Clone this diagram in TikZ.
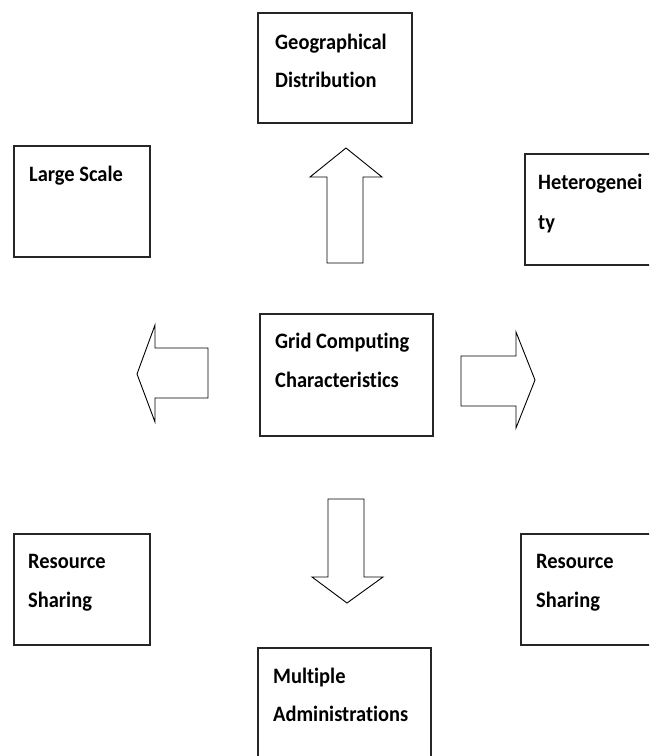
\documentclass[tikz,border=0pt]{standalone}
\usepackage{fontspec}
\setmainfont{Carlito}[Ligatures=NoCommon, FakeStretch=0.93]
\begin{document}
\begin{tikzpicture}[x=1pt,y=-1pt,
  box/.style={draw=black!85, line width=1.3pt, fill=white, rectangle,
    anchor=north west, inner sep=0pt, outer sep=0pt},
  txt/.style={font=\bfseries\fontsize{22}{26}\selectfont, anchor=base west,
    inner sep=0pt, text=black},
  blockarrow/.style={draw=black, line width=0.9pt, fill=white, line join=miter}]
% page area
\clip (0,0) rectangle (649,756);
\fill[white] (0,0) rectangle (649,756);

% boxes
\node[box, minimum width=154, minimum height=110] (geo) at (258,13) {};
\node[box, minimum width=136, minimum height=111] (large) at (14,146) {};
\node[box, minimum width=140, minimum height=111] (hetero) at (525,154) {};
\node[box, minimum width=173, minimum height=122] (grid) at (260,314) {};
\node[box, minimum width=136, minimum height=111] (resL) at (14,534) {};
\node[box, minimum width=140, minimum height=111] (resR) at (521,534) {};
\node[box, minimum width=173, minimum height=130] (multi) at (258,648) {};

% box texts
\node[txt] (geoA) at (275,49) {Geographical};
\node[txt] (geoB) at (275,87) {Distribution};
\node[txt] (largeA) at (29,181) {Large Scale};
\node[txt] (heteroA) at (538,189) {Heterogenei};
\node[txt] (heteroB) at (538,229) {ty};
\node[txt] (gridA) at (275,348) {Grid Computing};
\node[txt] (gridB) at (275,387) {Characteristics};
\node[txt] (resLA) at (28,568) {Resource};
\node[txt] (resLB) at (28,607) {Sharing};
\node[txt] (resRA) at (536,568) {Resource};
\node[txt] (resRB) at (536,607) {Sharing};
\node[txt] (multiA) at (273,683) {Multiple};
\node[txt] (multiB) at (273,721) {Administrations};

% block arrows around the centre box
\draw[blockarrow] (327,263) -- (327,177) -- (310,177) -- (346,148)
  -- (382,177) -- (363,177) -- (363,263) -- cycle;
\draw[blockarrow] (208,348) -- (155,348) -- (155,325) -- (137,374)
  -- (155,422) -- (155,398) -- (208,398) -- cycle;
\draw[blockarrow] (461,356) -- (516,356) -- (516,332) -- (535,380)
  -- (516,428) -- (516,406) -- (461,406) -- cycle;
\draw[blockarrow] (328,499) -- (328,577) -- (312,577) -- (347,603)
  -- (383,577) -- (364,577) -- (364,499) -- cycle;
\end{tikzpicture}
\end{document}
